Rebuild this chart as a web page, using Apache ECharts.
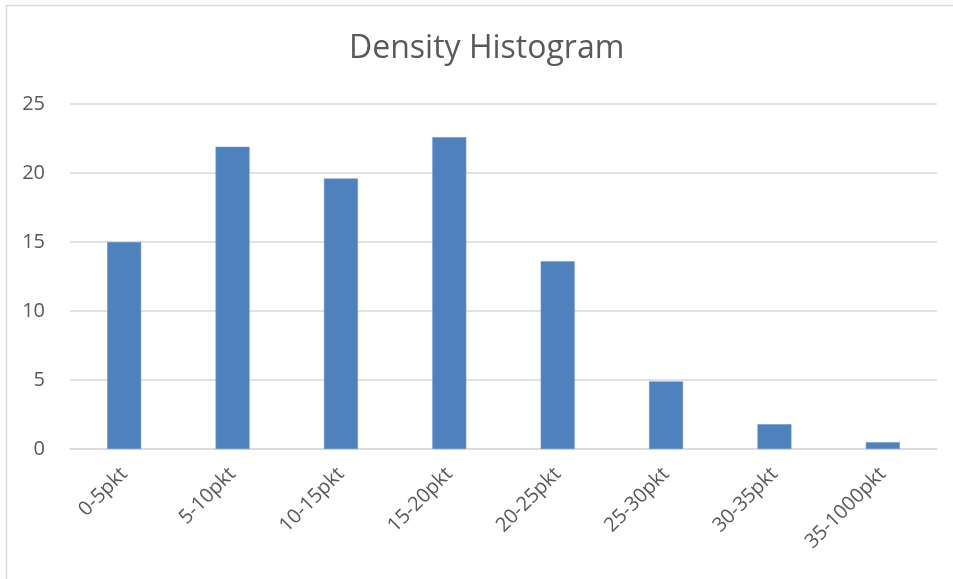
<!DOCTYPE html>
<html>
<head>
<meta charset="utf-8">
<title>Density Histogram</title>
<script src="https://cdn.jsdelivr.net/npm/echarts@6/dist/echarts.min.js"></script>
<style>
  html, body { margin: 0; padding: 0; background: #fff; }
  #chart { width: 953px; height: 579px; }
</style>
</head>
<body>
<div id="chart"></div>
<script>
  // data
  let categories = ['0-5pkt', '5-10pkt', '10-15pkt', '15-20pkt', '20-25pkt', '25-30pkt', '30-35pkt', '35-1000pkt']
  let density = [15.0, 21.9, 19.6, 22.6, 13.6, 4.9, 1.8, 0.5]
  let yTicks = [0, 5, 10, 15, 20, 25]

  let colors = ['#4f81bd', '#595959', '#d9d9d9']
  let fontFamily = '"Open Sans", "Noto Sans", sans-serif'

  let elChart = echarts.init(document.getElementById('chart'))

  let optionData = {
    animation: false,
    color: colors,
    title: {
      text: 'Density Histogram',
      left: 344,
      top: 28,
      textStyle: {
        color: colors[1],
        fontFamily: fontFamily,
        fontWeight: 'normal',
        fontSize: 32
      }
    },
    graphic: [
      {
        // chart frame, only the top and left edges are on the picture
        type: 'rect',
        shape: { x: 6.5, y: 5.5, width: 1000, height: 1000 },
        style: { fill: 'none', stroke: colors[2], lineWidth: 1.5 },
        silent: true
      }
    ],
    grid: {
      left: 70,
      right: 16,
      top: 104,
      bottom: 130
    },
    xAxis: {
      type: 'category',
      data: categories,
      axisTick: { show: false },
      axisLine: {
        lineStyle: { color: colors[2], width: 1.5 }
      },
      axisLabel: {
        interval: 0,
        rotate: 45,
        margin: 22,
        color: colors[1],
        fontFamily: fontFamily,
        fontSize: 20
      }
    },
    yAxis: {
      type: 'value',
      min: yTicks[0],
      max: yTicks[yTicks.length - 1],
      interval: 5,
      axisLine: { show: false },
      axisTick: { show: false },
      axisLabel: {
        margin: 25,
        color: colors[1],
        fontFamily: fontFamily,
        fontSize: 20
      },
      splitLine: {
        lineStyle: { color: colors[2], width: 1.5 }
      }
    },
    series: [
      {
        name: 'Density',
        type: 'bar',
        barWidth: 34,
        data: density,
        itemStyle: {
          color: colors[0],
          borderColor: '#6c95c9',
          borderWidth: 0.6
        }
      }
    ]
  }

  elChart.setOption(optionData)
</script>
</body>
</html>
